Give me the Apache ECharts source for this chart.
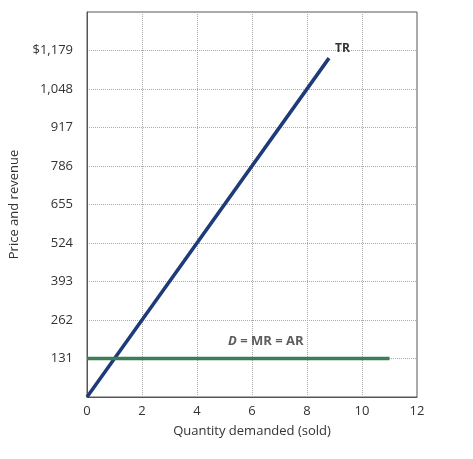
<!DOCTYPE html><html><head><meta charset="utf-8"><script src="https://cdn.jsdelivr.net/npm/echarts@6/dist/echarts.min.js"></script>
<style>html,body{margin:0;padding:0;background:#fff}#c{width:473px;height:459px}</style></head><body><div id="c"></div><script>
const trQ=[0,8.8];
const trV=[0,1153];
const dQ=[0,11];
const dV=[131,131];
const dLabelPos=[6.5,131];
const yTickLabels={131:"131",262:"262",393:"393",524:"524",655:"655",786:"786",917:"917",1048:"1,048",1179:"$1,179"};
const c=echarts.init(document.getElementById('c'));
const font='"Open Sans", Lato, sans-serif';
c.setOption({
 animation:false,
 grid:{left:84,right:56,top:12,bottom:62,show:true,borderColor:'#555',borderWidth:1},
 xAxis:{type:'value',min:0,max:12,interval:2,name:'Quantity demanded (sold)',nameLocation:'middle',nameGap:28,
  nameTextStyle:{fontFamily:font,fontSize:13,color:'#333'},
  axisLine:{lineStyle:{color:'#555'}},axisTick:{show:false},
  axisLabel:{fontFamily:font,fontSize:13,color:'#333'},
  splitLine:{show:true,lineStyle:{type:'dotted',color:'#aaa'}}},
 yAxis:{type:'value',min:0,max:1310,interval:131,name:'Price and revenue',nameLocation:'middle',nameGap:66,
  nameTextStyle:{fontFamily:font,fontSize:13,color:'#333'},
  axisLine:{show:true,lineStyle:{color:'#555'}},axisTick:{show:false},
  axisLabel:{fontFamily:font,fontSize:13,color:'#333',margin:14,formatter:v=>yTickLabels[v]||''},
  splitLine:{show:true,lineStyle:{type:'dotted',color:'#aaa'}}},
 series:[
  {type:'line',data:trQ.map((q,i)=>[q,trV[i]]),symbol:'none',lineStyle:{color:'#1f3a78',width:3.5},
   endLabel:{show:true,formatter:'TR',fontFamily:font,fontWeight:'bold',fontSize:12,color:'#333',offset:[-2,-10]}},
  {type:'line',data:dQ.map((q,i)=>[q,dV[i]]),symbol:'none',lineStyle:{color:'#3b7d57',width:3.5}},
  {type:'scatter',data:[dLabelPos],symbolSize:1,itemStyle:{color:'rgba(0,0,0,0)'},silent:true,
   label:{show:true,position:'top',distance:10,formatter:'{i|D} = MR = AR',fontFamily:font,fontWeight:'bold',fontSize:13,color:'#333',
    rich:{i:{fontStyle:'italic',fontWeight:'bold',fontFamily:font,fontSize:13,color:'#333'}}}}
 ]
});
</script></body></html>
